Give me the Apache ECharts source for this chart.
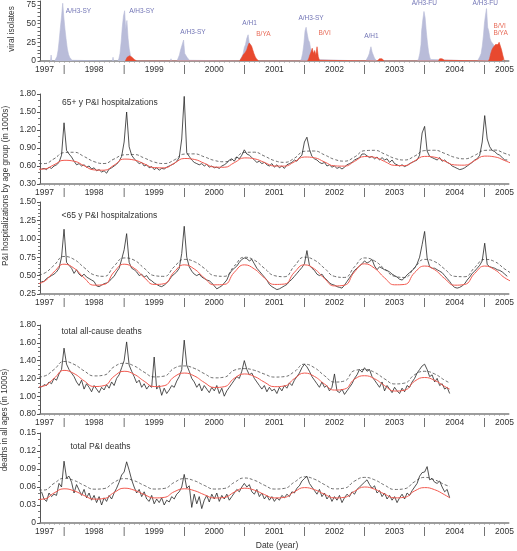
<!DOCTYPE html>
<html><head><meta charset="utf-8">
<script src="https://cdn.jsdelivr.net/npm/echarts@6/dist/echarts.min.js"></script>
<style>html,body{margin:0;padding:0;background:#fff}#c{width:517px;height:551px}</style>
</head><body><div id="c"></div>
<script>
// ---------- time grids ----------
const weeklyStart = 1997.625, weeklyStep = 1 / 24;   // half-month series
const curveStart = 1997.5, curveStep = 1 / 6;        // smooth baseline / threshold
const deathCurveEnd = 2004.417;

// ---------- x-axis labels ----------
const yearLabels = ['1997','1998','1999','2000','2001','2002','2003','2004','2005'];
const yearLabelPos = [1997.674,1998.5,1999.5,2000.5,2001.5,2002.5,2003.5,2004.5,2005.33];
const yearTickPos = [1998,1999,2000,2001,2002,2003,2004,2005];
const isolateTicks = [0,25,50,75];

// ---------- viral isolates (year, isolates) ----------
const virusA = [
 [1997.775,0],[1997.785,8],[1997.795,0],
 [1997.845,0],[1997.863,2],[1997.882,6],[1997.901,14],[1997.920,28],[1997.940,45],[1997.959,60],[1997.978,77],[1997.997,58],[1998.016,42],[1998.036,28],[1998.055,16],[1998.074,9],[1998.093,5],[1998.113,3],[1998.132,1],[1998.15,0],
 [1998.805,0],[1998.815,5],[1998.825,0],
 [1998.895,0],[1998.912,3],[1998.931,10],[1998.950,25],[1998.969,45],[1998.989,60],[1999.008,67],[1999.027,42],[1999.046,54],[1999.066,30],[1999.085,16],[1999.104,8],[1999.123,4],[1999.143,2],[1999.16,0],
 [1999.77,0],[1999.78,3],[1999.79,0],
 [1999.88,0],[1999.90,2],[1999.92,8],[1999.94,15],[1999.95,17],[1999.97,14],[1999.989,28],[2000.008,10],[2000.027,8],[2000.046,5],[2000.066,3],[2000.085,1],[2000.10,0],
 [2000.92,0],[2000.94,3],[2000.96,6],[2000.98,10],[2001.00,18],[2001.02,22],[2001.04,30],[2001.063,35],[2001.08,25],[2001.10,22],[2001.12,15],[2001.14,8],[2001.16,4],[2001.18,2],[2001.20,0],
 [2001.93,0],[2001.95,3],[2001.97,10],[2001.99,22],[2002.01,40],[2002.028,45],[2002.047,36],[2002.066,28],[2002.085,25],[2002.10,18],[2002.12,12],[2002.14,6],[2002.16,2],[2002.18,0],
 [2003.02,0],[2003.04,3],[2003.06,6],[2003.08,10],[2003.09,14],[2003.107,19],[2003.126,12],[2003.145,8],[2003.165,4],[2003.18,2],[2003.20,0],
 [2003.88,0],[2003.90,3],[2003.92,10],[2003.94,22],[2003.95,40],[2003.97,55],[2003.989,66],[2004.008,58],[2004.027,40],[2004.046,25],[2004.066,12],[2004.085,5],[2004.10,2],[2004.12,0],
 [2004.88,0],[2004.90,3],[2004.92,6],[2004.94,10],[2004.96,20],[2004.98,35],[2004.995,50],[2005.011,60],[2005.030,70],[2005.049,45],[2005.068,40],[2005.088,30],[2005.107,26],[2005.126,24],[2005.145,22],[2005.165,18],[2005.18,12],[2005.20,6],[2005.22,3],[2005.24,1],[2005.26,0]
];
const virusB = [
 [1999.02,0],[1999.03,2],[1999.05,5],[1999.07,7],[1999.09,7],[1999.11,6],[1999.13,5],[1999.15,3],[1999.17,2],[1999.19,1],[1999.21,0],
 [2000.92,0],[2000.94,2],[2000.96,5],[2000.98,8],[2001.00,10],[2001.02,12],[2001.04,15],[2001.06,20],[2001.08,24],[2001.10,26],[2001.12,20],[2001.14,15],[2001.16,10],[2001.18,6],[2001.20,3],[2001.22,1],[2001.24,0],
 [2002.05,0],[2002.07,3],[2002.09,8],[2002.11,12],[2002.13,17],[2002.15,10],[2002.17,14],[2002.19,8],[2002.21,19],[2002.23,6],[2002.25,1],[2002.27,0],
 [2003.21,0],[2003.23,2],[2003.25,3],[2003.27,2],[2003.29,3],[2003.31,1],[2003.33,0],
 [2004.23,0],[2004.25,3],[2004.27,4],[2004.29,3],[2004.31,4],[2004.33,1],[2004.35,0],
 [2005.06,0],[2005.08,3],[2005.10,10],[2005.12,15],[2005.14,18],[2005.16,20],[2005.18,22],[2005.20,24],[2005.22,22],[2005.24,25],[2005.26,20],[2005.28,15],[2005.30,8],[2005.32,2],[2005.34,0]
];
// strain labels: text, year, isolates, type
const strainLabels = [
 ['A/H3-SY',1998.24,67,'A'],['A/H3-SY',1999.294,67,'A'],['A/H3-SY',2000.145,38,'A'],
 ['A/H1',2001.087,51,'A'],['B/YA',2001.318,35.6,'B'],['A/H3-SY',2002.11,57,'A'],
 ['B/VI',2002.335,37.7,'B'],['A/H1',2003.115,33.7,'A'],['A/H3-FU',2003.996,77.3,'A'],
 ['A/H3-FU',2005.009,77.3,'A'],['B/VI',2005.25,46.7,'B'],['B/YA',2005.264,37,'B']
];

// ---------- 65+ P&I hospitalizations (1000s), half-monthly ----------
const hosp65 = [
 0.55,0.56,0.54,0.58,0.56,0.60,0.62,0.66,0.78,
 1.32,0.86,0.80,0.75,0.68,0.62,0.64,0.60,0.62,0.58,0.60,0.55,0.57,0.52,0.54,0.50,0.52,0.48,0.55,0.57,0.60,0.63,0.68,0.76,
 1.00,1.50,0.92,0.78,0.72,0.68,0.64,0.66,0.60,0.62,0.57,0.59,0.54,0.57,0.53,0.56,0.55,0.58,0.60,0.62,0.64,0.68,0.74,1.05,
 1.76,0.82,0.76,0.70,0.66,0.64,0.62,0.64,0.60,0.63,0.58,0.60,0.57,0.58,0.56,0.60,0.62,0.65,0.70,0.72,0.68,0.75,0.72,0.78,
 0.87,0.80,0.78,0.74,0.70,0.66,0.68,0.64,0.66,0.62,0.60,0.64,0.58,0.62,0.57,0.60,0.56,0.62,0.64,0.66,0.70,0.68,0.74,0.78,
 1.00,1.08,0.88,0.76,0.72,0.70,0.66,0.64,0.66,0.60,0.62,0.58,0.60,0.56,0.58,0.55,0.58,0.62,0.64,0.66,0.70,0.72,0.74,0.80,
 0.80,0.77,0.74,0.76,0.72,0.75,0.70,0.74,0.70,0.72,0.66,0.70,0.64,0.62,0.60,0.62,0.59,0.61,0.64,0.66,0.68,0.70,0.78,1.15,
 1.26,0.85,0.76,0.74,0.72,0.70,0.74,0.68,0.70,0.66,0.64,0.60,0.58,0.56,0.54,0.55,0.57,0.60,0.63,0.66,0.70,0.72,0.78,1.00,
 1.44,1.05,0.92,0.86,0.84,0.80,0.78,0.74,0.70,0.70
];
const hosp65Base = [
 0.545,0.55,0.62,
 0.695,0.68,0.605,0.535,0.53,0.615,
 0.715,0.70,0.636,0.573,0.569,0.645,
 0.725,0.71,0.646,0.583,0.579,0.655,
 0.735,0.72,0.66,0.60,0.598,0.67,
 0.75,0.737,0.668,0.602,0.598,0.677,
 0.758,0.745,0.676,0.61,0.606,0.685,
 0.76,0.747,0.681,0.618,0.614,0.69,
 0.765,0.752,0.69,0.62
];
const hosp65Thresh = [
 0.64,0.64,0.72,
 0.823,0.829,0.758,0.673,0.641,0.717,
 0.786,0.791,0.734,0.666,0.641,0.70,
 0.798,0.802,0.753,0.693,0.671,0.724,
 0.825,0.83,0.766,0.69,0.661,0.73,
 0.845,0.85,0.786,0.71,0.681,0.75,
 0.855,0.861,0.80,0.728,0.70,0.765,
 0.857,0.862,0.81,0.745,0.72,0.778,
 0.86,0.865,0.81,0.75
];

// ---------- <65 P&I hospitalizations (1000s) ----------
const hospU65 = [
 0.42,0.42,0.46,0.48,0.50,0.52,0.55,0.60,0.75,
 1.13,0.68,0.64,0.60,0.53,0.58,0.52,0.49,0.52,0.48,0.46,0.44,0.42,0.36,0.35,0.37,0.39,0.40,0.42,0.46,0.49,0.55,0.60,0.72,
 0.85,1.07,0.68,0.60,0.58,0.55,0.50,0.52,0.48,0.50,0.45,0.43,0.40,0.38,0.36,0.35,0.37,0.40,0.44,0.49,0.52,0.55,0.60,0.80,
 1.17,0.75,0.62,0.56,0.52,0.50,0.52,0.48,0.46,0.44,0.43,0.40,0.36,0.32,0.34,0.36,0.40,0.44,0.52,0.57,0.60,0.63,0.68,0.72,
 0.74,0.73,0.70,0.72,0.66,0.60,0.56,0.52,0.48,0.44,0.38,0.35,0.33,0.31,0.32,0.34,0.36,0.38,0.42,0.45,0.49,0.53,0.57,0.61,
 0.66,0.84,0.64,0.60,0.57,0.52,0.50,0.52,0.47,0.44,0.40,0.38,0.37,0.35,0.34,0.33,0.37,0.42,0.47,0.52,0.57,0.60,0.63,0.66,
 0.70,0.67,0.69,0.72,0.63,0.58,0.62,0.60,0.58,0.57,0.55,0.52,0.50,0.48,0.45,0.44,0.47,0.51,0.54,0.57,0.60,0.66,0.75,0.92,
 1.10,0.74,0.62,0.60,0.60,0.58,0.56,0.54,0.50,0.46,0.42,0.37,0.34,0.33,0.34,0.36,0.39,0.44,0.48,0.53,0.56,0.60,0.64,0.70,
 0.94,0.65,0.62,0.61,0.60,0.58,0.57,0.55,0.52,0.49
];
const hospU65Base = [
 0.38,0.42,0.55,
 0.655,0.60,0.47,0.37,0.38,0.55,
 0.655,0.60,0.475,0.38,0.39,0.55,
 0.646,0.59,0.47,0.375,0.38,0.545,
 0.646,0.59,0.47,0.38,0.385,0.545,
 0.646,0.59,0.46,0.36,0.37,0.55,
 0.66,0.60,0.47,0.375,0.38,0.54,
 0.63,0.58,0.46,0.37,0.38,0.53,
 0.63,0.58,0.47,0.40
];
const hospU65Thresh = [
 0.50,0.53,0.64,
 0.76,0.72,0.61,0.51,0.49,0.63,
 0.74,0.71,0.60,0.50,0.49,0.62,
 0.72,0.69,0.60,0.50,0.49,0.63,
 0.75,0.71,0.60,0.50,0.485,0.63,
 0.75,0.71,0.60,0.49,0.475,0.62,
 0.74,0.70,0.59,0.49,0.475,0.61,
 0.72,0.69,0.59,0.49,0.485,0.61,
 0.72,0.69,0.59,0.50
];

// ---------- total all-cause deaths (1000s) ----------
const deathAll = [
 1.10,1.13,1.12,1.16,1.14,1.20,1.18,1.25,1.30,
 1.54,1.36,1.30,1.26,1.22,1.16,1.12,1.18,1.08,1.14,1.10,1.05,1.12,1.08,1.04,1.10,1.07,1.13,1.09,1.16,1.12,1.20,1.24,1.32,
 1.40,1.61,1.35,1.28,1.22,1.15,1.18,1.10,1.14,1.08,1.12,1.10,1.44,1.08,1.12,1.01,1.09,1.03,1.07,1.12,1.10,1.17,1.22,1.30,
 1.63,1.35,1.28,1.20,1.16,1.10,1.14,1.06,1.12,1.08,1.04,1.10,1.06,1.12,1.03,1.09,1.00,1.06,1.10,1.14,1.18,1.22,1.20,1.28,
 1.40,1.30,1.24,1.26,1.20,1.16,1.12,1.08,1.12,1.05,1.10,1.06,1.08,1.03,1.10,1.06,1.12,1.09,1.15,1.12,1.18,1.22,1.26,1.32,
 1.36,1.33,1.28,1.22,1.18,1.14,1.10,1.16,1.10,1.12,1.06,1.10,1.25,1.06,1.04,1.08,1.02,1.06,1.10,1.14,1.20,1.24,1.30,1.27,
 1.32,1.28,1.30,1.22,1.18,1.14,1.10,1.16,1.06,1.12,1.08,1.04,1.10,1.06,1.03,1.09,1.05,1.12,1.10,1.16,1.20,1.26,1.30,1.34,
 1.36,1.30,1.22,1.24,1.16,1.20,1.12,1.14,1.08,1.10,1.03
];
const deathAllBase = [
 1.10,1.115,1.20,
 1.29,1.254,1.173,1.109,1.119,1.224,
 1.28,1.246,1.169,1.108,1.118,1.218,
 1.26,1.228,1.155,1.098,1.107,1.201,
 1.25,1.222,1.158,1.107,1.115,1.198,
 1.26,1.222,1.137,1.069,1.08,1.191,
 1.23,1.196,1.119,1.058,1.068,1.168,
 1.21,1.178,1.11,1.08
];
const deathAllThresh = [
 1.21,1.225,1.30,
 1.39,1.358,1.285,1.228,1.237,1.331,
 1.37,1.34,1.27,1.217,1.226,1.315,
 1.34,1.313,1.254,1.206,1.214,1.292,
 1.31,1.291,1.249,1.215,1.22,1.276,
 1.36,1.32,1.231,1.159,1.171,1.288,
 1.30,1.268,1.195,1.138,1.147,1.241,
 1.28,1.25,1.18,1.15
];

// ---------- total P&I deaths (1000s) ----------
const deathPI = [
 0.052,0.040,0.036,0.050,0.044,0.048,0.046,0.066,0.060,
 0.103,0.075,0.078,0.068,0.050,0.064,0.055,0.046,0.056,0.042,0.050,0.038,0.046,0.034,0.044,0.030,0.042,0.036,0.046,0.040,0.050,0.058,0.068,0.080,
 0.085,0.102,0.088,0.072,0.060,0.050,0.056,0.044,0.052,0.040,0.036,0.046,0.032,0.040,0.034,0.042,0.030,0.038,0.035,0.044,0.040,0.048,0.052,0.060,
 0.081,0.058,0.062,0.026,0.048,0.032,0.044,0.024,0.038,0.046,0.035,0.048,0.040,0.050,0.036,0.046,0.040,0.048,0.038,0.044,0.050,0.056,0.052,0.060,
 0.066,0.060,0.064,0.052,0.048,0.056,0.044,0.050,0.040,0.046,0.038,0.044,0.036,0.042,0.038,0.046,0.042,0.048,0.044,0.052,0.050,0.058,0.062,0.070,
 0.074,0.078,0.066,0.060,0.054,0.048,0.056,0.044,0.050,0.040,0.046,0.036,0.044,0.038,0.046,0.034,0.042,0.048,0.044,0.052,0.048,0.056,0.060,0.064,
 0.068,0.072,0.064,0.058,0.062,0.050,0.054,0.044,0.050,0.040,0.046,0.038,0.044,0.034,0.042,0.048,0.040,0.050,0.046,0.054,0.060,0.066,0.078,0.084,
 0.085,0.094,0.072,0.074,0.068,0.066,0.070,0.060,0.052,0.056,0.042
];
const deathPIBase = [
 0.039,0.040,0.050,
 0.057,0.0536,0.0459,0.0398,0.0408,0.0508,
 0.058,0.0548,0.0475,0.0418,0.0427,0.0521,
 0.057,0.054,0.0472,0.0417,0.0426,0.0515,
 0.058,0.0548,0.0475,0.0418,0.0427,0.0521,
 0.059,0.0556,0.048,0.0418,0.0428,0.0528,
 0.060,0.0564,0.0483,0.0419,0.0429,0.0534,
 0.059,0.0555,0.047,0.042
];
const deathPIThresh = [
 0.055,0.055,0.066,
 0.0745,0.0709,0.0628,0.0564,0.0574,0.0679,
 0.074,0.0705,0.0627,0.0566,0.0576,0.0676,
 0.074,0.0705,0.0627,0.0566,0.0576,0.0676,
 0.075,0.0712,0.063,0.0566,0.0577,0.0682,
 0.077,0.073,0.0641,0.0569,0.0581,0.0698,
 0.076,0.072,0.0631,0.0559,0.0571,0.0688,
 0.076,0.072,0.064,0.061
];

// ---------- build ----------
const weeklyYears = hosp65.map((_, i) => weeklyStart + i * weeklyStep);
const curveYears = hosp65Base.map((_, i) => curveStart + i * curveStep);
const deathCurveYears = curveYears.slice(0, 42).concat([deathCurveEnd]);
const zip = (xs, vs) => vs.map((v, i) => [xs[i], v]);

const FONT = 'Liberation Sans, Arial, sans-serif';
const TXT = '#333';
const BLUE_TXT = '#4e51a3', RED_TXT = '#e2462e';
const AREA_A = '#b9bcd9', AREA_B = '#e8492f';

const grids = [
  {top: 1, height: 60}, {top: 94, height: 90}, {top: 202, height: 92},
  {top: 325, height: 89}, {top: 433, height: 90}
].map(g => Object.assign({left: 40, right: 5}, g));

const monthTicks = [];
for (let m = 1997 * 12 + 8; m <= 2005 * 12 + 4; m++) monthTicks.push(m / 12);

const xAxes = grids.map((g, i) => ({
  type: 'value', gridIndex: i, min: 1997.6, max: 2005.4,
  axisLine: {show: true, lineStyle: {color: '#7d7d7d', width: 1.5}},
  axisTick: {show: true, customValues: monthTicks, length: 2, lineStyle: {color: '#9a9a9a', width: 0.6}},
  axisLabel: {
    show: true, customValues: yearLabelPos.concat(yearTickPos), margin: 4,
    fontSize: 8.5, fontFamily: FONT, color: TXT,
    formatter: v => {
      const ti = yearTickPos.findIndex(t => Math.abs(t - v) < 1e-6);
      if (ti >= 0) return '|';
      const li = yearLabelPos.findIndex(t => Math.abs(t - v) < 1e-6);
      return li >= 0 ? yearLabels[li] : '';
    }
  },
  splitLine: {show: false}
}));

function yAx(i, min, max, interval, minorSplit, fmt) {
  return {
    type: 'value', gridIndex: i, min, max, interval,
    axisLine: {show: true, lineStyle: {color: '#555', width: 1}},
    axisTick: {show: true, length: 3, lineStyle: {color: '#555'}},
    minorTick: {show: minorSplit > 0, splitNumber: minorSplit || 5, length: 2, lineStyle: {color: '#777'}},
    axisLabel: {fontSize: 8.5, fontFamily: FONT, color: TXT, margin: 4, formatter: fmt},
    splitLine: {show: false}
  };
}
const f2 = v => (v === 0 ? '0' : v.toFixed(2));
const yAxes = [
  {
    type: 'value', gridIndex: 0, min: 0, max: 80, interval: 5,
    axisLine: {show: true, lineStyle: {color: '#555', width: 1}},
    axisTick: {show: true, length: 2.5, lineStyle: {color: '#666'}},
    axisLabel: {fontSize: 8.5, fontFamily: FONT, color: TXT, margin: 4, customValues: isolateTicks},
    splitLine: {show: false}
  },
  yAx(1, 0.3, 1.8, 0.3, 3, f2),
  yAx(2, 0.25, 1.5, 0.25, 5, f2),
  yAx(3, 0.8, 1.8, 0.2, 4, f2),
  yAx(4, 0, 0.15, 0.03, 3, f2)
];

const lineBase = {type: 'line', symbol: 'none', silent: true, animation: false};
function panelSeries(i, obs, base, thresh, obsYears, curveX) {
  return [
    Object.assign({}, lineBase, {xAxisIndex: i, yAxisIndex: i, smooth: true, data: zip(curveX, thresh),
      lineStyle: {color: '#4a4a4a', width: 0.8, type: [3, 2]}, z: 2}),
    Object.assign({}, lineBase, {xAxisIndex: i, yAxisIndex: i, data: zip(obsYears, obs),
      lineStyle: {color: '#262626', width: 0.8}, z: 3}),
    Object.assign({}, lineBase, {xAxisIndex: i, yAxisIndex: i, smooth: true, data: zip(curveX, base),
      lineStyle: {color: '#f25a50', width: 1}, z: 4})
  ];
}

const series = [
  Object.assign({}, lineBase, {xAxisIndex: 0, yAxisIndex: 0, data: virusA,
    lineStyle: {color: AREA_A, width: 0.6}, areaStyle: {color: AREA_A, opacity: 1}, z: 2}),
  Object.assign({}, lineBase, {xAxisIndex: 0, yAxisIndex: 0, data: virusB,
    lineStyle: {color: AREA_B, width: 0.6}, areaStyle: {color: AREA_B, opacity: 1}, z: 3}),
  {
    type: 'scatter', xAxisIndex: 0, yAxisIndex: 0, symbolSize: 0, silent: true, animation: false, z: 5,
    data: strainLabels.map(s => ({value: [s[1], s[2]], name: s[0],
      label: {color: s[3] === 'A' ? BLUE_TXT : RED_TXT}})),
    label: {show: true, position: 'inside', formatter: p => p.name, fontSize: 6.5, fontFamily: FONT}
  }
].concat(
  panelSeries(1, hosp65, hosp65Base, hosp65Thresh, weeklyYears, curveYears),
  panelSeries(2, hospU65, hospU65Base, hospU65Thresh, weeklyYears, curveYears),
  panelSeries(3, deathAll, deathAllBase, deathAllThresh, weeklyYears, deathCurveYears),
  panelSeries(4, deathPI, deathPIBase, deathPIThresh, weeklyYears, deathCurveYears)
);

function txt(text, x, y, opts) {
  return Object.assign({
    type: 'text', x, y, silent: true,
    style: Object.assign({text, font: '8.5px ' + FONT, fill: TXT,
      textAlign: 'left', align: 'left', textVerticalAlign: 'middle', verticalAlign: 'middle'}, opts && opts.style)
  }, opts && opts.el);
}
const graphic = [
  txt('viral isolates', 11.5, 29, {style: {textAlign: 'center', align: 'center', font: '8.3px ' + FONT}, el: {rotation: Math.PI / 2}}),
  txt('P&I hospitalizations by age group (in 1000s)', 5.5, 186, {style: {textAlign: 'center', align: 'center', font: '8.2px ' + FONT}, el: {rotation: Math.PI / 2}}),
  txt('deaths in all ages (in 1000s)', 5, 420, {style: {textAlign: 'center', align: 'center', font: '8.2px ' + FONT}, el: {rotation: Math.PI / 2}}),
  txt('65+ y P&I hospitalzations', 62, 102.5),
  txt('<65 y P&I hospitalzations', 61.5, 216),
  txt('total all-cause deaths', 61.5, 331.5),
  txt('total P&I deaths', 70.5, 446.5),
  txt('Date (year)', 277, 545.5, {style: {textAlign: 'center', align: 'center'}})
];

const chart = echarts.init(document.getElementById('c'), null, {renderer: 'canvas'});
chart.setOption({
  animation: false,
  backgroundColor: '#fff',
  grid: grids,
  xAxis: xAxes,
  yAxis: yAxes,
  series,
  graphic
});
</script></body></html>
